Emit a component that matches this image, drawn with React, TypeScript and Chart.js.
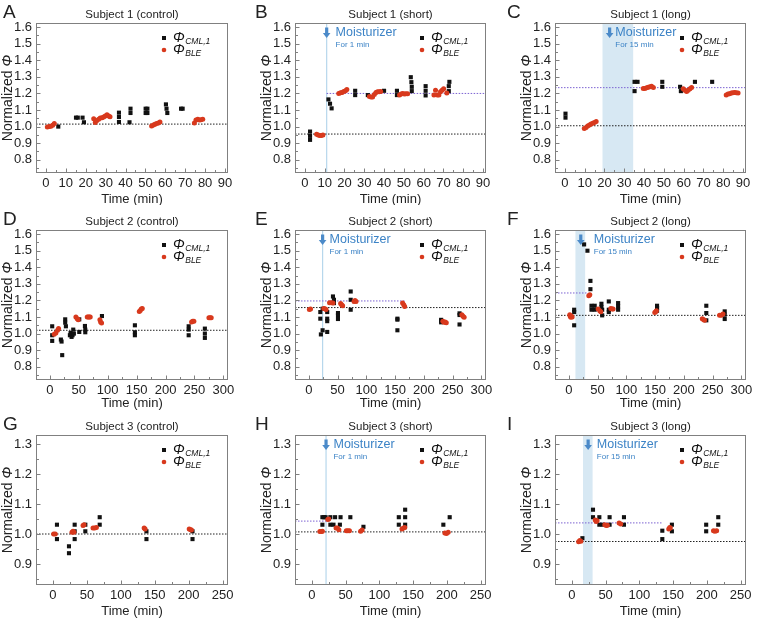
import React, { useEffect, useRef } from "react";
import { Chart, registerables } from "chart.js";
Chart.register(...registerables);

type P = [number, number];

// ---------- tick labels ----------
const xTicksShort = [0, 10, 20, 30, 40, 50, 60, 70, 80, 90];
const xTicksS2 = [0, 50, 100, 150, 200, 250, 300];
const xTicksS3 = [0, 50, 100, 150, 200, 250];
const yTicksS12 = [0.8, 0.9, 1.0, 1.1, 1.2, 1.3, 1.4, 1.5, 1.6];
const yTicksS3 = [0.9, 1.0, 1.1, 1.2, 1.3];

// ---------- data (time min, normalized phi) ----------
const cmlA: P[] = [[6.2,1.0],[15.1,1.054],[16,1.054],[18.4,1.054],[19.1,1.026],[36.7,1.084],[36.7,1.058],[36.7,1.028],[42.5,1.108],[42.5,1.082],[42,1.026],[50.1,1.108],[51,1.108],[50.1,1.082],[51,1.082],[60.3,1.134],[60.6,1.108],[61,1.082],[67.9,1.108],[68.7,1.108]];
const bleA: P[] = [[0.7,0.998],[1.7,1.0],[2.5,1.002],[3.4,1.008],[4.2,1.018],[24,1.048],[24.8,1.024],[25.6,1.036],[26.5,1.044],[27.3,1.052],[28.2,1.054],[29,1.058],[29.8,1.064],[30.7,1.072],[31.5,1.064],[32.2,1.06],[53.1,1.004],[54,1.01],[54.8,1.014],[55.6,1.018],[56.5,1.022],[57.3,1.028],[74.6,1.022],[75.4,1.04],[76.3,1.044],[77.1,1.04],[77.9,1.042],[78.8,1.044]];

const cmlB: P[] = [[2.6,0.97],[2.6,0.944],[2.6,0.92],[11.9,1.164],[12.7,1.138],[13.5,1.11],[25.4,1.216],[25.4,1.19],[31.8,1.19],[40,1.216],[46.5,1.216],[46.5,1.19],[53.5,1.298],[53.8,1.268],[54,1.24],[54,1.214],[61,1.244],[61,1.216],[61,1.188],[72.7,1.214],[72.7,1.244],[73,1.27]];
const bleB: P[] = [[5.9,0.954],[6.7,0.95],[7.5,0.946],[8.3,0.946],[9.1,0.95],[17.1,1.2],[18,1.204],[18.8,1.206],[19.6,1.212],[20.5,1.216],[21.2,1.224],[32.6,1.182],[33.4,1.178],[34.2,1.178],[35.1,1.194],[35.9,1.206],[36.7,1.21],[37.5,1.21],[38.3,1.212],[47.8,1.19],[48.6,1.196],[49.4,1.2],[50.2,1.196],[51,1.198],[51.9,1.198],[65.2,1.19],[66,1.22],[66.9,1.19],[67.7,1.19],[68.5,1.21],[69.3,1.22],[70.1,1.228],[71.7,1.202]];

const cmlC: P[] = [[0.3,1.078],[0.3,1.054],[35.2,1.27],[36.7,1.27],[35.2,1.214],[49.2,1.27],[49.2,1.24],[58.2,1.24],[58.6,1.214],[65.7,1.27],[74.4,1.27]];
const bleC: P[] = [[9.8,0.988],[10.7,0.994],[11.5,1.004],[12.4,1.01],[13.2,1.016],[14.1,1.02],[14.9,1.024],[15.8,1.03],[39.6,1.23],[40.4,1.23],[41.3,1.234],[42.1,1.238],[43,1.24],[43.8,1.244],[44.7,1.236],[59.8,1.228],[60.6,1.22],[61.5,1.212],[62.3,1.22],[63.2,1.228],[64,1.236],[81.5,1.19],[82.4,1.196],[83.2,1.198],[84.1,1.202],[84.9,1.204],[85.8,1.206],[86.6,1.204],[87.5,1.202]];

const cmlD: P[] = [[4,1.044],[4,0.99],[4,0.956],[19,0.964],[20.2,0.952],[21.3,0.87],[26.5,1.086],[26.5,1.066],[27.7,1.044],[34.6,0.99],[35.8,1.004],[37.5,0.98],[39.2,0.99],[40.4,1.024],[41.5,1.0],[50.8,1.086],[50.8,1.01],[60.6,1.046],[61.2,1.024],[61.2,1.008],[90,1.106],[147,1.05],[147,1.008],[147,0.99],[240,1.044],[240,1.024],[240,0.99],[268,1.03],[268,1.0],[268,0.974]];
const bleD: P[] = [[7.5,0.996],[10.4,1.004],[13.3,1.02],[15,1.03],[45,1.1],[47.3,1.09],[49,1.084],[64.6,1.1],[66.4,1.1],[68.1,1.1],[69.8,1.1],[86.5,1.084],[87.7,1.07],[89.4,1.064],[154.6,1.134],[156.3,1.14],[158,1.148],[159.8,1.152],[245,1.07],[247,1.074],[249,1.074],[275,1.096],[277,1.096],[279,1.096]];

const cmlE: P[] = [[20,1.13],[20,1.09],[21,0.995],[24,1.15],[24,1.02],[32,1.13],[32,1.09],[32,1.075],[32,1.01],[42,1.224],[43.7,1.204],[43.7,1.184],[50.7,1.124],[50.7,1.11],[50.7,1.088],[72.8,1.254],[72.8,1.204],[72.8,1.144],[154,1.09],[154,1.084],[154,1.02],[230,1.083],[230,1.077],[230,1.068],[262,1.122],[262,1.112],[262,1.055]];
const bleE: P[] = [[1,1.146],[3,1.148],[26,1.152],[28,1.15],[30,1.146],[36,1.186],[39,1.186],[42,1.184],[55.3,1.182],[57,1.174],[58.8,1.168],[78.6,1.194],[80.4,1.2],[82.1,1.194],[163,1.184],[165,1.174],[166.6,1.164],[233,1.075],[235,1.068],[237,1.07],[239,1.065],[266,1.113],[268,1.105],[270,1.098]];

const cmlF: P[] = [[9.3,1.144],[9.3,1.13],[9.3,1.05],[26.6,1.538],[32.4,1.5],[37.6,1.318],[37.6,1.268],[39.4,1.168],[39.4,1.144],[45,1.168],[45,1.144],[56.7,1.18],[56.7,1.16],[58,1.144],[58,1.11],[69.5,1.194],[69.5,1.144],[69.5,1.13],[85.7,1.184],[85.7,1.164],[85.7,1.144],[153.4,1.168],[153.4,1.154],[153.4,1.138],[239,1.168],[239,1.124],[239,1.08],[271,1.134],[271,1.114],[271,1.088]];
const bleF: P[] = [[1.7,1.114],[2.5,1.105],[3.5,1.098],[4.6,1.104],[5.8,1.1],[34.7,1.228],[36.5,1.234],[51,1.148],[53.8,1.138],[55.6,1.132],[73,1.152],[75.3,1.148],[77,1.148],[149.4,1.128],[151,1.132],[152.3,1.138],[232,1.09],[234.5,1.084],[236,1.08],[262,1.11],[265,1.11],[268,1.118]];

const cmlG: P[] = [[5.9,1.031],[5.9,0.983],[23.6,0.959],[23.6,0.936],[32,1.031],[32,1.009],[32,0.983],[47.7,1.031],[47.7,1.009],[68.9,1.056],[68.9,1.031],[137.8,1.009],[137.8,0.983],[205.7,1.009],[205.7,0.983]];
const bleG: P[] = [[1,1.0],[3.4,1.0],[28,1.006],[29.5,1.009],[31,1.006],[44.3,1.028],[45.8,1.031],[59,1.02],[61.5,1.02],[64,1.022],[134.4,1.02],[135.8,1.017],[200.8,1.017],[202.8,1.014],[204.2,1.013]];

const cmlH: P[] = [[15.6,1.031],[15.6,1.056],[17.9,1.056],[20.3,1.056],[27.4,1.056],[27.4,1.031],[32,1.031],[34.4,1.056],[41.5,1.031],[42.5,1.056],[57,1.056],[76.4,1.024],[128.8,1.056],[128.8,1.031],[138.2,1.081],[138.2,1.056],[138.2,1.031],[194.8,1.031],[204.2,1.056]];
const bleH: P[] = [[11.8,1.008],[14.2,1.008],[15.6,1.009],[23.6,1.048],[25,1.05],[35.8,1.02],[37.7,1.02],[40,1.014],[51,1.011],[53.3,1.011],[55.7,1.011],[72.2,1.009],[74.5,1.013],[133.5,1.017],[135.8,1.02],[137.7,1.022],[197,1.003],[199.5,1.002],[202,1.006]];

const cmlI: P[] = [[15.6,0.986],[31.3,1.081],[31.3,1.056],[40.7,1.056],[40.7,1.031],[45.5,1.031],[55.9,1.031],[55.9,1.056],[77.2,1.056],[77.2,1.031],[134,1.011],[134,0.983],[148.2,1.031],[148.2,1.009],[199,1.031],[199,1.009],[216.9,1.031],[216.9,1.056]];
const bleI: P[] = [[10,0.974],[11.8,0.978],[13.3,0.976],[34.6,1.047],[36,1.042],[37.4,1.044],[48.8,1.031],[51,1.028],[52.6,1.029],[70,1.037],[72.4,1.033],[143.5,1.017],[145,1.022],[145.8,1.02],[209.8,1.011],[212,1.009],[214.5,1.011]];

// reference levels (A..I)
const baselineLevel = [1.015, 0.955, 1.005, 1.02, 1.157, 1.11, 1.0, 1.007, 0.975];
const targetLevel: (number | null)[] = [null, 1.2, 1.235, null, 1.197, 1.245, null, 1.043, 1.037];
const targetFrom: (number | null)[] = [null, 11, null, null, null, null, null, null, null];
const targetTo: (number | null)[] = [null, null, null, null, 167, 32, null, 22, 135];
// moisturizer application window (min)
const applyStart: (number | null)[] = [null, 11, 19, null, 24, 11.5, null, 21, 16.5];
const applyEnd: (number | null)[] = [null, 11, 34.5, null, 24, 28.4, null, 21, 30.7];
const applyLabel: (string | null)[] = [null, "For 1 min", "For 15 min", null, "For 1 min", "For 15 min", null, "For 1 min", "For 15 min"];

const letters = ["A", "B", "C", "D", "E", "F", "G", "H", "I"];
const titles = ["Subject 1 (control)", "Subject 1 (short)", "Subject 1 (long)", "Subject 2 (control)", "Subject 2 (short)", "Subject 2 (long)", "Subject 3 (control)", "Subject 3 (short)", "Subject 3 (long)"];
const cmlData = [cmlA, cmlB, cmlC, cmlD, cmlE, cmlF, cmlG, cmlH, cmlI];
const bleData = [bleA, bleB, bleC, bleD, bleE, bleF, bleG, bleH, bleI];

// ---------- layout ----------
const colLeft = [0, 252, 504];
const colWidth = [252, 252, 253];
const rowTop = [0, 205, 410];
const rowHeight = [205, 205, 210];
const plotL = [36, 295, 555];
const plotR = [228, 486, 746];
const plotT = [23, 230, 435];
const plotB = [173, 380, 585];
const xTitleOffset = [26, 23.5, 26];
const xRange: P[] = [[-5, 91.5], [-24, 308], [-25, 258]];
const yRange: P[] = [[0.72, 1.625], [0.72, 1.625], [0.83, 1.33]];
const xTickSets = [xTicksShort, xTicksS2, xTicksS3];
const xMinorStep = [5, 25, 25];
const yTickSets = [yTicksS12, yTicksS12, yTicksS3];
// arrow/text anchor (data x) for the annotation
const arrowX: (number | null)[] = [null, 11, 22.6, null, 24, 20.8, null, 21, 24.1];
const textX: (number | null)[] = [null, 15.5, 25.5, null, 36, 43.4, null, 32, 37];

const FONT = "'Liberation Sans', Arial, sans-serif";
const NARROW = "'Liberation Sans Narrow', 'Liberation Sans', Arial, sans-serif";
const RED = "#d8391d";
const BLACK = "#111111";
const PURPLE = "#7c62d2";
const BLUE = "#3c83c6";
const FRAME = "#808080";

function buildChart(canvas: HTMLCanvasElement, i: number) {
  const r = Math.floor(i / 3);
  const c = i % 3;
  const [xMin, xMax] = xRange[r];
  const [yMin, yMax] = yRange[r];
  const xTicks = xTickSets[r];
  const yTicks = yTickSets[r];
  const padTop = plotT[r] - rowTop[r];
  const xH = rowTop[r] + rowHeight[r] - plotB[r];
  const yW = plotL[c] - colLeft[c];
  const padRight = colLeft[c] + colWidth[c] - plotR[c];

  const datasets: any[] = [];
  datasets.push({
    type: "line", data: [{ x: xMin, y: baselineLevel[i] }, { x: xMax, y: baselineLevel[i] }],
    borderColor: "#222", borderWidth: 1, borderDash: [1.5, 1.5], pointRadius: 0, showLine: true, order: 5,
  });
  const tl = targetLevel[i];
  if (tl !== null) {
    const f = targetFrom[i] ?? xMin;
    const t = targetTo[i] ?? xMax;
    datasets.push({
      type: "line", data: [{ x: f, y: tl }, { x: t, y: tl }],
      borderColor: PURPLE, borderWidth: 1, borderDash: [1.5, 1.5], pointRadius: 0, showLine: true, order: 5,
    });
  }
  const as = applyStart[i], ae = applyEnd[i];
  if (as !== null && ae !== null && as === ae) {
    datasets.push({
      type: "line", data: [{ x: as, y: yMin }, { x: as, y: yMax }],
      borderColor: "#b7d7ec", borderWidth: 1.2, pointRadius: 0, showLine: true, order: 6,
    });
  }
  datasets.push({
    label: "CML", data: cmlData[i].map(([x, y]) => ({ x, y })), pointStyle: "rect",
    pointRadius: 2.9, backgroundColor: BLACK, borderWidth: 0, order: 2,
  });
  datasets.push({
    label: "BLE", data: bleData[i].map(([x, y]) => ({ x, y })), pointStyle: "circle",
    pointRadius: 2.5, backgroundColor: RED, borderWidth: 0, order: 1,
  });

  const panelPlugin = {
    id: "panel" + i,
    beforeDatasetsDraw(chart: any) {
      const { ctx, chartArea: a, scales } = chart;
      if (as !== null && ae !== null && as !== ae) {
        const x0 = scales.x.getPixelForValue(as);
        const x1 = scales.x.getPixelForValue(ae);
        ctx.save();
        ctx.fillStyle = "#d7e8f3";
        ctx.fillRect(x0, a.top, x1 - x0, a.bottom - a.top);
        ctx.restore();
      }
    },
    afterDraw(chart: any) {
      const { ctx, chartArea: a, scales } = chart;
      ctx.save();
      // frame
      ctx.strokeStyle = FRAME;
      ctx.lineWidth = 1;
      ctx.strokeRect(Math.round(a.left) + 0.5, Math.round(a.top) + 0.5, Math.round(a.right - a.left) - 1, Math.round(a.bottom - a.top) - 1);
      // inward ticks
      ctx.beginPath();
      const bY = Math.round(a.bottom) - 0.5;
      const lX = Math.round(a.left) + 0.5;
      const ms = xMinorStep[r];
      for (let v = Math.ceil(xMin / ms) * ms; v <= xMax; v += ms) {
        const px = Math.round(scales.x.getPixelForValue(v)) + 0.5;
        const major = xTicks.includes(v);
        ctx.moveTo(px, bY);
        ctx.lineTo(px, bY - (major ? 4 : 2.5));
      }
      for (let k = Math.ceil(yMin / 0.05); k * 0.05 <= yMax + 1e-9; k++) {
        const v = k * 0.05;
        const py = Math.round(scales.y.getPixelForValue(v)) + 0.5;
        const major = k % 2 === 0;
        ctx.moveTo(lX, py);
        ctx.lineTo(lX + (major ? 4 : 2.5), py);
      }
      ctx.stroke();

      // titles
      ctx.fillStyle = "#222";
      ctx.textBaseline = "middle";
      ctx.textAlign = "center";
      ctx.font = `11.5px ${FONT}`;
      const cx = (a.left + a.right) / 2;
      ctx.fillText(titles[i], cx, a.top - 8);
      ctx.textAlign = "left";
      ctx.font = `19px ${FONT}`;
      ctx.fillText(letters[i], 3, a.top - 10);
      // x axis title
      ctx.textAlign = "center";
      ctx.font = `13px ${NARROW}`;
      ctx.fillText("Time (min)", cx, a.bottom + xTitleOffset[r]);
      // y axis title
      ctx.save();
      ctx.translate(a.left - 28, (a.top + a.bottom) / 2);
      ctx.rotate(-Math.PI / 2);
      ctx.textAlign = "left";
      const ys = 14;
      ctx.font = `${ys}px ${FONT}`;
      const t1 = "Normalized ";
      const w1 = ctx.measureText(t1).width;
      ctx.font = `italic ${ys}px ${FONT}`;
      const w2 = ctx.measureText("Φ").width;
      const sx = -(w1 + w2) / 2;
      ctx.font = `${ys}px ${FONT}`;
      ctx.fillText(t1, sx, 0);
      ctx.font = `italic ${ys}px ${FONT}`;
      ctx.fillText("Φ", sx + w1, 0);
      ctx.restore();

      // legend
      const lx = a.right - 64;
      const ly1 = a.top + 15;
      const ly2 = a.top + 27;
      ctx.fillStyle = BLACK;
      ctx.fillRect(lx - 2, ly1 - 2, 4, 4);
      ctx.fillStyle = RED;
      ctx.beginPath();
      ctx.arc(lx, ly2, 2.3, 0, Math.PI * 2);
      ctx.fill();
      ctx.fillStyle = "#111";
      ctx.textAlign = "left";
      const drawSym = (y: number, sub: string) => {
        ctx.font = `italic 14px ${FONT}`;
        ctx.fillText("Φ", lx + 9, y);
        const w = ctx.measureText("Φ").width;
        ctx.font = `italic 8.5px ${FONT}`;
        ctx.fillText(sub, lx + 9 + w + 0.5, y + 4);
      };
      drawSym(ly1, "CML,1");
      drawSym(ly2, "BLE");

      // moisturizer annotation
      const axv = arrowX[i];
      const txv = textX[i];
      if (axv !== null && txv !== null) {
        const ax = scales.x.getPixelForValue(axv);
        const ay = a.top + 10;
        ctx.fillStyle = "#4b8ac9";
        ctx.fillRect(ax - 1.6, ay - 5.5, 3.2, 6);
        ctx.beginPath();
        ctx.moveTo(ax - 3.8, ay);
        ctx.lineTo(ax + 3.8, ay);
        ctx.lineTo(ax, ay + 5);
        ctx.closePath();
        ctx.fill();
        const tx = scales.x.getPixelForValue(txv);
        ctx.fillStyle = BLUE;
        ctx.font = `12.5px ${FONT}`;
        ctx.fillText("Moisturizer", tx, ay);
        ctx.font = `8px ${FONT}`;
        ctx.fillText(applyLabel[i] || "", tx, a.top + 22);
      }
      ctx.restore();
    },
  };

  return new Chart(canvas, {
    type: "scatter",
    data: { datasets },
    options: {
      animation: false,
      responsive: false,
      maintainAspectRatio: false,
      events: [],
      layout: { padding: { left: 0, top: padTop, right: padRight, bottom: 0 } },
      plugins: { legend: { display: false }, tooltip: { enabled: false }, title: { display: false } },
      scales: {
        x: {
          type: "linear", min: xMin, max: xMax,
          afterBuildTicks: (s: any) => { s.ticks = xTicks.map((v) => ({ value: v })); },
          afterFit: (s: any) => { s.height = xH; },
          grid: { display: false, drawTicks: false },
          border: { display: false },
          ticks: { padding: 3, autoSkip: false, maxRotation: 0, color: "#222", font: { family: NARROW, size: 13 }, callback: (v: any) => String(v) },
        },
        y: {
          type: "linear", min: yMin, max: yMax,
          afterBuildTicks: (s: any) => { s.ticks = yTicks.map((v) => ({ value: v })); },
          afterFit: (s: any) => { s.width = yW; },
          grid: { display: false, drawTicks: false },
          border: { display: false },
          ticks: { padding: 4, autoSkip: false, color: "#222", font: { family: NARROW, size: 13 }, callback: (v: any) => Number(v).toFixed(1) },
        },
      },
    } as any,
    plugins: [panelPlugin],
  } as any);
}

function Panel({ i }: { i: number }) {
  const ref = useRef<HTMLCanvasElement>(null);
  const r = Math.floor(i / 3);
  const c = i % 3;
  useEffect(() => {
    const chart = buildChart(ref.current!, i);
    return () => chart.destroy();
  }, [i]);
  return (
    <canvas
      ref={ref}
      width={colWidth[c]}
      height={rowHeight[r]}
      style={{ position: "absolute", left: colLeft[c], top: rowTop[r], width: colWidth[c], height: rowHeight[r] }}
    />
  );
}

export default function App() {
  return (
    <div style={{ position: "absolute", left: 0, top: 0, width: 757, height: 620, background: "#ffffff", overflow: "hidden" }}>
      {letters.map((_, i) => (
        <Panel key={i} i={i} />
      ))}
    </div>
  );
}
